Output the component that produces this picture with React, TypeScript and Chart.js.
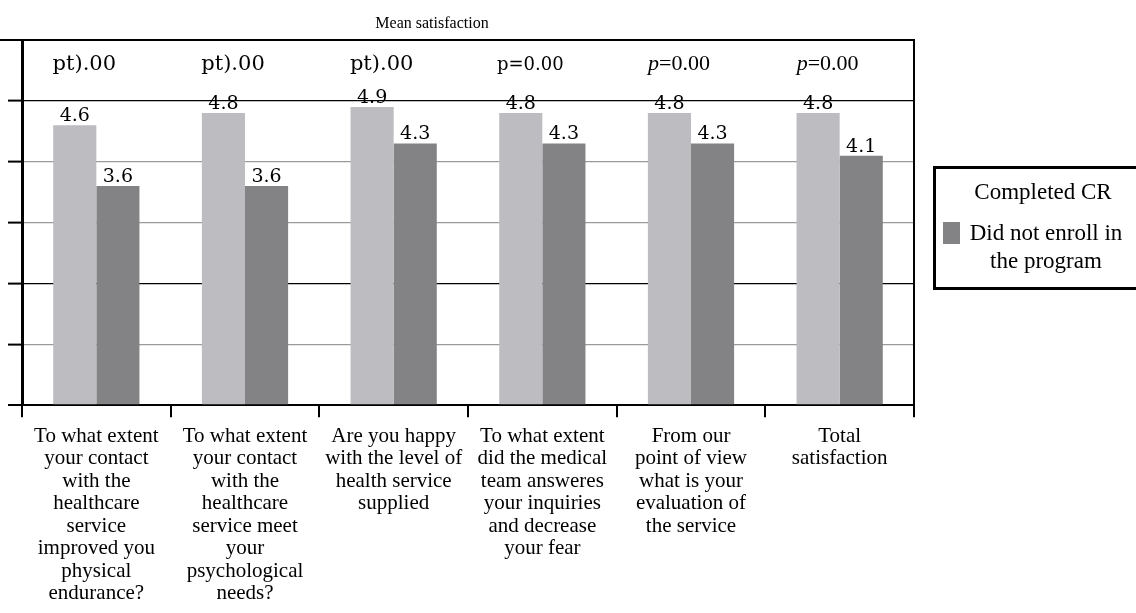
import React, { useEffect, useRef } from "react";
import { Chart, registerables } from "chart.js";

Chart.register(...registerables);

const chartTitle = "Mean satisfaction";

const categories: string[][] = [
  ["To what extent", "your contact", "with the", "healthcare", "service", "improved you", "physical", "endurance?"],
  ["To what extent", "your contact", "with the", "healthcare", "service meet", "your", "psychological", "needs?"],
  ["Are you happy", "with the level of", "health service", "supplied"],
  ["To what extent", "did the medical", "team answeres", "your inquiries", "and decrease", "your fear"],
  ["From our", "point of view", "what is your", "evaluation of", "the service"],
  ["Total", "satisfaction"],
];

const seriesNames = ["Completed CR", "Did not enroll in the program"];
const completedCR = [4.6, 4.8, 4.9, 4.8, 4.8, 4.8];
const notEnrolled = [3.6, 3.6, 4.3, 4.3, 4.3, 4.1];
const pValueLabels = ["pt).00", "pt).00", "pt).00", "p=0.00", "p=0.00", "p=0.00"];

const yMin = 0;
const yMax = 6;
const yStep = 1;

const LIGHT = "#bdbdc1";
const DARK = "#838385";

const annotate = {
  id: "annotate",
  afterDatasetsDraw(chart: any) {
    const ctx = chart.ctx as CanvasRenderingContext2D;
    const area = chart.chartArea;
    const xs = chart.scales.x;
    ctx.save();
    ctx.fillStyle = "#000";
    // value labels
    chart.data.datasets.forEach((ds: any, di: number) => {
      const meta = chart.getDatasetMeta(di);
      meta.data.forEach((bar: any, i: number) => {
        ctx.font = '19px "DejaVu Serif"';
        ctx.textAlign = "center";
        ctx.textBaseline = "alphabetic";
        ctx.fillText(Number(ds.data[i]).toFixed(1), bar.x, bar.y - 4);
      });
    });
    // p-value labels
    pValueLabels.forEach((t, i) => {
      const cx = xs.getPixelForValue(i) - 12;
      const y = area.top + 30;
      ctx.textBaseline = "alphabetic";
      if (i >= 4) {
        ctx.font = 'italic 22px "Liberation Serif"';
        const pw = ctx.measureText(t[0]).width;
        ctx.font = '22px "Liberation Serif"';
        const rest = t.slice(1);
        const rw = ctx.measureText(rest).width;
        const start = cx - (pw + rw) / 2;
        ctx.textAlign = "left";
        ctx.font = 'italic 22px "Liberation Serif"';
        ctx.fillText(t[0], start, y);
        ctx.font = '22px "Liberation Serif"';
        ctx.fillText(rest, start + pw, y);
      } else {
        ctx.font = i === 3 ? '18px "DejaVu Serif"' : '21px "DejaVu Serif"';
        ctx.textAlign = "center";
        ctx.fillText(t, cx, y);
      }
    });
    // title
    ctx.font = '16px "Liberation Serif"';
    ctx.textAlign = "center";
    ctx.fillText(chartTitle, (area.left + area.right) / 2 - 36, area.top - 12);
    ctx.restore();
  },
  afterDraw(chart: any) {
    const ctx = chart.ctx as CanvasRenderingContext2D;
    const area = chart.chartArea;
    ctx.save();
    ctx.strokeStyle = "#000";
    ctx.lineWidth = 2;
    ctx.beginPath();
    ctx.moveTo(0, area.top);
    ctx.lineTo(area.right + 1, area.top);
    ctx.moveTo(area.right, area.top);
    ctx.lineTo(area.right, area.bottom);
    ctx.stroke();
    ctx.restore();
  },
};

export default function App() {
  const ref = useRef<HTMLCanvasElement | null>(null);

  useEffect(() => {
    if (!ref.current) return;
    const chart = new Chart(ref.current, {
      type: "bar",
      data: {
        labels: categories,
        datasets: [
          { label: seriesNames[0], data: completedCR, backgroundColor: LIGHT, borderWidth: 0 },
          { label: seriesNames[1], data: notEnrolled, backgroundColor: DARK, borderWidth: 0 },
        ],
      },
      options: {
        animation: false,
        responsive: false,
        events: [],
        layout: { padding: { left: 8, top: 40, right: 222, bottom: 0 } },
        datasets: { bar: { categoryPercentage: 0.58, barPercentage: 1.0 } },
        plugins: {
          legend: { display: false },
          title: { display: false },
          tooltip: { enabled: false },
        },
        scales: {
          x: {
            offset: true,
            grid: {
              offset: true,
              drawOnChartArea: false,
              drawTicks: true,
              tickLength: 12,
              color: "#000",
              lineWidth: 2,
            },
            border: { display: true, color: "#000", width: 2 },
            ticks: {
              color: "#000",
              font: { family: '"Liberation Serif"', size: 21, lineHeight: 1.07 },
              maxRotation: 0,
              minRotation: 0,
              autoSkip: false,
              padding: 8,
            },
          },
          y: {
            min: yMin,
            max: yMax,
            ticks: { display: false, stepSize: yStep },
            grid: {
              drawTicks: true,
              tickLength: 14,
              tickColor: "#000",
              tickWidth: 2,
              color: (c: any) => {
                const v = c.tick ? c.tick.value : 0;
                return v === 0 || v === 2 || v === 5 || v === 6 ? "#000" : "#9a9a9a";
              },
              lineWidth: (c: any) => {
                const v = c.tick ? c.tick.value : 0;
                return v === 6 || v === 0 ? 2 : 1.2;
              },
            },
            border: { display: true, color: "#000", width: 3 },
          },
        },
      },
      plugins: [annotate],
    });
    return () => chart.destroy();
  }, []);

  return (
    <div
      style={{
        position: "absolute",
        left: 0,
        top: 0,
        width: 1136,
        height: 613,
        overflow: "hidden",
        background: "#fff",
      }}
    >
      <canvas ref={ref} width={1136} height={613} style={{ display: "block" }} />
      <div
        style={{
          position: "absolute",
          left: 933,
          top: 166,
          width: 214,
          height: 118,
          border: "3px solid #000",
          fontFamily: '"Liberation Serif"',
          fontSize: 23,
          color: "#000",
          boxSizing: "content-box",
        }}
      >
        <div style={{ textAlign: "center", marginTop: 10, lineHeight: "26px" }}>{seriesNames[0]}</div>
        <div style={{ display: "flex", alignItems: "flex-start", marginTop: 14 }}>
          <div
            style={{
              width: 17,
              height: 22,
              background: DARK,
              marginLeft: 7,
              marginTop: 3,
              flex: "0 0 auto",
            }}
          />
          <div style={{ textAlign: "center", lineHeight: "28px", width: 168, marginLeft: 2 }}>
            {seriesNames[1]}
          </div>
        </div>
      </div>
    </div>
  );
}
